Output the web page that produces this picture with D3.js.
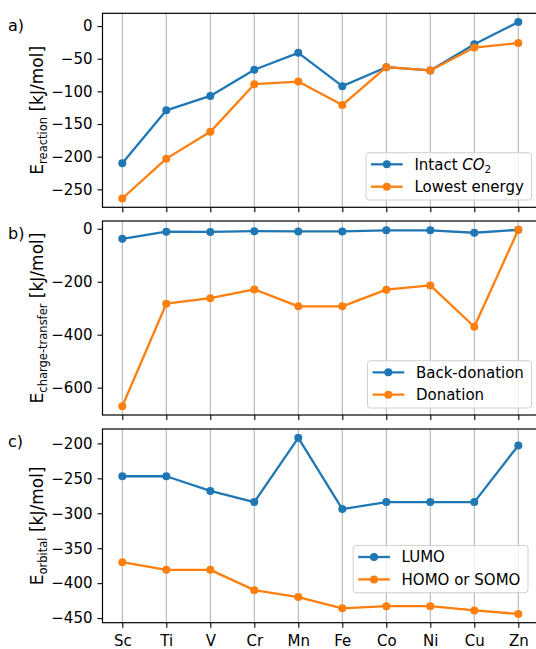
<!DOCTYPE html>
<html><head><meta charset="utf-8">
<script src="https://cdn.jsdelivr.net/npm/d3@7"></script>
<style>
body{margin:0;background:#fff;}
svg{display:block;font-family:"DejaVu Sans",sans-serif;}
</style></head><body>
<svg id="chart" width="536" height="649"></svg>
<script>
const metals = ["Sc","Ti","V","Cr","Mn","Fe","Co","Ni","Cu","Zn"];
const intactCO2 = [-210,-129,-107,-67,-41,-92,-63,-68,-28,6];
const lowestEnergy = [-264,-203,-162,-89,-85,-121,-63,-68,-33,-26];
const backDonation = [-38,-11,-12,-9,-10,-10,-6,-6,-15,-4];
const donation = [-670,-283,-262,-229,-293,-293,-230,-214,-370,-4];
const lumo = [-247,-247,-268,-284,-192,-294,-284,-284,-284,-203];
const homoSomo = [-370,-381,-381,-410,-420,-436,-433,-433,-439,-444];
const ticksA = [0,-50,-100,-150,-200,-250];
const ticksB = [0,-200,-400,-600];
const ticksC = [-200,-250,-300,-350,-400,-450];

const BLUE = "#1f77b4", ORANGE = "#ff7f0e";
const FS = 15;
const svg = d3.select("#chart");
const x = d3.scalePoint().domain(metals).range([102.5, 538.1]).padding(0.45);

const panels = [
  {label:"a)", sub:"reaction", top:13.3, bottom:207.3, ticks:ticksA,
   series:[{name:"Intact ", math:true, data:intactCO2, color:BLUE},{name:"Lowest energy", data:lowestEnergy, color:ORANGE}],
   legend:{right:531.5, bottom:200}},
  {label:"b)", sub:"charge-transfer", top:221, bottom:415, ticks:ticksB,
   series:[{name:"Back-donation", data:backDonation, color:BLUE},{name:"Donation", data:donation, color:ORANGE}],
   legend:{right:531.5, bottom:408}},
  {label:"c)", sub:"orbital", top:429, bottom:622.7, ticks:ticksC, xlabels:true,
   series:[{name:"LUMO", data:lumo, color:BLUE},{name:"HOMO or SOMO", data:homoSomo, color:ORANGE}],
   legend:{right:528, bottom:592.7}}
];

const fmt = d => d < 0 ? "\u2212" + Math.abs(d) : String(d);

panels.forEach(p => {
  const all = p.series.flatMap(s => s.data);
  const lo = d3.min(all), hi = d3.max(all), m = (hi - lo) * 0.05;
  const y = d3.scaleLinear().domain([lo - m, hi + m]).range([p.bottom, p.top]);
  const g = svg.append("g");

  g.selectAll("line.grid").data(metals).join("line")
    .attr("x1", d => x(d)).attr("x2", d => x(d))
    .attr("y1", p.top).attr("y2", p.bottom)
    .attr("stroke", "#b0b0b0").attr("stroke-width", 1);

  p.series.forEach(s => {
    const line = d3.line().x((d,i) => x(metals[i])).y(d => y(d));
    g.append("path").attr("d", line(s.data)).attr("fill","none")
      .attr("stroke", s.color).attr("stroke-width", 2.3).attr("stroke-linejoin","round");
    g.selectAll(null).data(s.data).join("circle")
      .attr("cx", (d,i) => x(metals[i])).attr("cy", d => y(d)).attr("r", 4)
      .attr("fill", s.color);
  });

  const ya = g.append("g").attr("transform", `translate(${x.range()[0]},0)`)
    .call(d3.axisLeft(y).tickValues(p.ticks).tickFormat(fmt).tickSize(5).tickPadding(5));
  ya.select(".domain").remove();
  ya.selectAll("text").attr("font-size", FS).attr("fill","#000").attr("font-family","DejaVu Sans");
  ya.selectAll("line").attr("stroke","#000").attr("stroke-width",1.1);

  const xa = g.append("g").attr("transform", `translate(0,${p.bottom})`)
    .call(d3.axisBottom(x).tickSize(5).tickPadding(8).tickFormat(p.xlabels ? d => d : () => ""));
  xa.select(".domain").remove();
  xa.selectAll("text").attr("font-size", FS).attr("fill","#000").attr("font-family","DejaVu Sans");
  xa.selectAll("line").attr("stroke","#000").attr("stroke-width",1.1);

  const [xl, xr] = x.range();
  g.append("rect").attr("x", xl).attr("y", p.top).attr("width", xr - xl).attr("height", p.bottom - p.top)
    .attr("fill","none").attr("stroke","#000").attr("stroke-width",1.2);

  const yl = g.append("text").attr("transform", `translate(43,${(p.top+p.bottom)/2}) rotate(-90)`)
    .attr("text-anchor","middle").attr("font-size",17).attr("fill","#000");
  yl.append("tspan").text("E");
  yl.append("tspan").attr("font-size",11.5).attr("dy",4).text(p.sub);
  yl.append("tspan").attr("dy",-4).text(" [kJ/mol]");

  g.append("text").attr("x", 8).attr("y", p.top + 18).attr("font-size", 16).attr("fill","#000").text(p.label);

  const lg = g.append("g");
  const rect = lg.append("rect");
  const texts = [];
  p.series.forEach((s, i) => {
    const ry = 11.6 + i * 22.4;
    lg.append("line").attr("x1", 5).attr("x2", 36.7).attr("y1", ry).attr("y2", ry)
      .attr("stroke", s.color).attr("stroke-width", 2.3);
    lg.append("circle").attr("cx", 20.8).attr("cy", ry).attr("r", 4).attr("fill", s.color);
    const t = lg.append("text").attr("x", 48.4).attr("y", ry).attr("dy", "0.36em")
      .attr("font-size", FS).attr("fill","#000");
    if (s.math) {
      t.append("tspan").text(s.name);
      t.append("tspan").attr("font-style","italic").text("CO");
      t.append("tspan").attr("font-size",10.5).attr("dy",3).text("2");
    } else t.text(s.name);
    texts.push(t);
  });
  const tw = d3.max(texts, t => t.node().getComputedTextLength());
  const w = 48.4 + tw + 7.6, h = 47.3;
  rect.attr("width", w).attr("height", h).attr("rx", 3)
    .attr("fill","#fff").attr("fill-opacity",0.8).attr("stroke","#d0d0d0").attr("stroke-width",1);
  lg.attr("transform", `translate(${p.legend.right - w},${p.legend.bottom - h})`);
});
</script>
</body></html>
